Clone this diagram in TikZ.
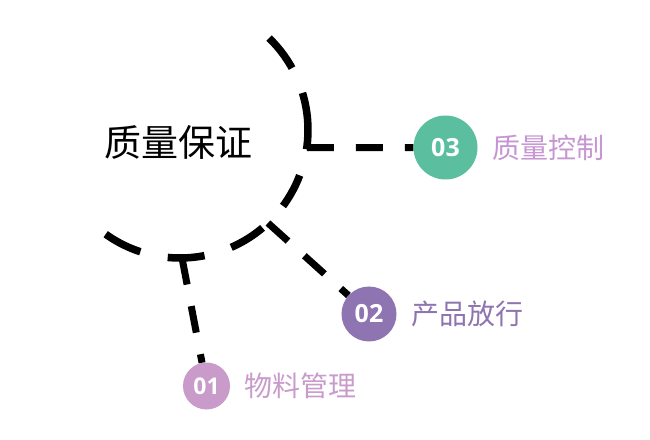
\documentclass[tikz,border=0pt]{standalone}
\usepackage{fontspec}
\newfontfamily\cjk{Noto Sans CJK SC}
\newfontfamily\numfont{Open Sans}
\usepackage{tikz}
\usetikzlibrary{math,positioning}
\definecolor{StepGreen}{RGB}{91,191,159}
\definecolor{StepPurple}{RGB}{142,116,176}
\definecolor{StepPink}{RGB}{200,155,203}
\definecolor{StepLilac}{RGB}{198,150,210}
\tikzset{%
  ring/.style={line width=7.5pt,
    dash pattern=on 39pt off 28pt on 37pt off 28pt on 37pt off 30pt on 35pt off 27pt on 57pt off 27pt on 38pt},
  link/.style={line width=7pt, dash pattern=on 27pt off 22pt},
  badge/.style={circle, inner sep=0pt, text=white, font=\numfont\bfseries\fontsize{25}{25}\selectfont},
  caption/.style={inner sep=0pt, font=\cjk\fontsize{28}{28}\selectfont}
}

\begin{document}
\begin{tikzpicture}[x=1pt,y=1pt]
    \tikzmath{
      \r=128; % ring radius
      \cx=180;\cy=309; % ring centre
    }
    \useasboundingbox (0,0) rectangle (650,439);
    \coordinate (o) at (\cx,\cy);
    % Dashed ring.
    \draw[ring] (o) ++(-125.5:\r) arc[start angle=-125.5, end angle=46, radius=\r];
    % Where the links leave the ring.
    \path (o) ++(-7.9:\r) coordinate (a3);
    \path (o) ++(-46.6:\r) coordinate (a2);
    \path (o) ++(-89.1:\r) coordinate (a1);
    % Step badges.
    \node[badge, fill=StepGreen, minimum size=64pt] (c03) at (445.5,291.5) {03};
    \node[badge, fill=StepPurple, minimum size=55pt] (c02) at (369,125) {02};
    \node[badge, fill=StepPink, minimum size=47pt, font=\numfont\bfseries\fontsize{23}{23}\selectfont] (c01) at (206.5,53) {01};
    % Links.
    \draw[link] (a3) -- (c03);
    \draw[link] (a2) -- (c02);
    \draw[link] (a1) -- (c01);
    % Captions.
    \node[caption, text=StepLilac, right=15pt of c03] (t03) {质量控制};
    \node[caption, text=StepPurple, right=15pt of c02] (t02) {产品放行};
    \node[caption, text=StepPink, right=14pt of c01] (t01) {物料管理};
    \node[font=\cjk\fontsize{37}{37}\selectfont] (title) at (178.5,296.5) {质量保证};
\end{tikzpicture}
\end{document}
